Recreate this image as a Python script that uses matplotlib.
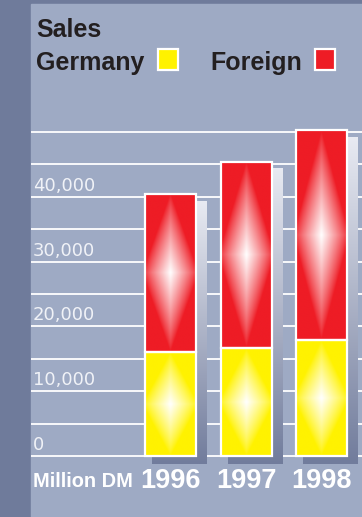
import numpy as np
import matplotlib
matplotlib.use('Agg')
import matplotlib.pyplot as plt
from matplotlib.colors import to_rgb
from matplotlib.patches import Rectangle

# Umsatz in Mio. DM
years = ['1996', '1997', '1998']
germany = [16000, 16600, 17900]
foreign = [24400, 28800, 32400]
grid_values = list(range(0, 50001, 5000))
tick_values = [0, 10000, 20000, 30000, 40000]
tick_labels = ['0', '10,000', '20,000', '30,000', '40,000']

W, H = 362, 517
PANEL = '#9eaac4'
BAND = '#6f7b9b'
RED = '#ee1c25'
YELLOW = '#fff200'
DARK = '#231f20'
FONT = 'Liberation Sans'

# pixel scale of the plot
k = (456 - 132) / 50000.0   # px per DM
sx = 75.5                   # px per bar slot
x0_px = 170.5               # centre of first bar
bar_w = 51 / sx


def glow(color, nh=300, nw=90):
    # diamond shaped highlight, white in the middle
    v = np.linspace(-1, 1, nh)[:, None]
    u = np.linspace(-1, 1, nw)[None, :]
    t = np.clip(1 - (np.abs(u) * 0.9 + np.abs(v)), 0, 1) ** 0.85
    base = np.array(to_rgb(color))
    return base * (1 - t[..., None]) + t[..., None]


def shade(n=200):
    top = np.array(to_rgb('#e8eaf2'))
    bot = np.array(to_rgb('#717c9c'))
    f = np.linspace(0, 1, n)[:, None, None]
    return top * (1 - f) + bot * f


fig = plt.figure(figsize=(W / 100, H / 100), dpi=100)
fig.patch.set_facecolor(BAND)
fig.patches.append(Rectangle((31 / W, 0), 1 - 31 / W, 1 - 4 / H,
                             transform=fig.transFigure, color=PANEL, zorder=-1))

ax = fig.add_axes([31 / W, 0, 1 - 31 / W, 1])
ax.set_axis_off()
ax.patch.set_alpha(0)
ax.set_zorder(1)

for g in grid_values:
    ax.axhline(g, color='white', lw=1.3, zorder=1)

for i, (de, fo) in enumerate(zip(germany, foreign)):
    total = de + fo
    left, right = i - bar_w / 2, i + bar_w / 2
    # drop shadow behind the bar
    ax.imshow(shade(), extent=(left + 7 / sx, right + 11 / sx, -8 / k, total - 7 / k),
              aspect='auto', interpolation='bilinear', zorder=2)
    ax.imshow(glow(YELLOW), extent=(left, right, 0, de),
              aspect='auto', interpolation='bilinear', zorder=3)
    ax.imshow(glow(RED), extent=(left, right, de, total),
              aspect='auto', interpolation='bilinear', zorder=3)
    for y0, h in [(0, de), (de, fo)]:
        ax.add_patch(Rectangle((left, y0), bar_w, h, fill=False,
                               ec='white', lw=1.6, zorder=4))
    ax.text(i, -(488 - 456) / k, years[i], ha='center', va='baseline',
            fontsize=19.5, fontweight='bold', family=FONT, color='white', zorder=5)

for v, lab in zip(tick_values, tick_labels):
    ax.text(2 / (W - 31), v + 6 / k, lab, transform=ax.get_yaxis_transform(),
            ha='left', va='baseline', fontsize=13, family='DejaVu Sans',
            color='#f0f2f7', zorder=5)

ax.set_xlim((31 - x0_px) / sx, (W - x0_px) / sx)
ax.set_ylim(-(H - 456) / k, 456 / k)

fig.text(33 / W, 1 - 487 / H, 'Million DM', ha='left', va='baseline',
         fontsize=14.4, fontweight='bold', family=FONT, color='white')

# title and legend
fig.text(36 / W, 1 - 37 / H, 'Sales', ha='left', va='baseline',
         fontsize=18, fontweight='bold', family=FONT, color=DARK)
fig.text(36 / W, 1 - 70 / H, 'Germany', ha='left', va='baseline',
         fontsize=18, fontweight='bold', family=FONT, color=DARK)
fig.text(210 / W, 1 - 70 / H, 'Foreign', ha='left', va='baseline',
         fontsize=18, fontweight='bold', family=FONT, color=DARK)
for xl, c in [(158, YELLOW), (315, RED)]:
    fig.patches.append(Rectangle((xl / W, 1 - 70 / H), 20 / W, 21 / H,
                                 transform=fig.transFigure, fc=c, ec='white',
                                 lw=1.6, zorder=3))

fig.savefig('out.png', dpi=100, facecolor=fig.get_facecolor())
